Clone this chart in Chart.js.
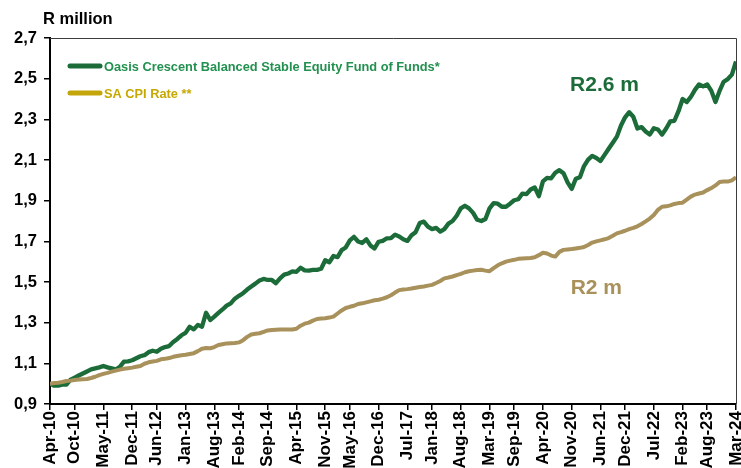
<!DOCTYPE html>
<html>
<head>
<meta charset="utf-8">
<script src="https://cdn.jsdelivr.net/npm/chart.js@4/dist/chart.umd.min.js"></script>
<style>
html,body{margin:0;padding:0;background:#fff;}
#wrap{position:relative;width:741px;height:468px;}
</style>
</head>
<body>
<div id="wrap"><canvas id="c" width="741" height="468"></canvas></div>
<script>
// ---- Data ----
const startMonth = 3;   // April
const startYear = 10;   // 2010
const monthNames = ['Jan','Feb','Mar','Apr','May','Jun','Jul','Aug','Sep','Oct','Nov','Dec'];

const tickLabels = ['Apr-10','Oct-10','May-11','Dec-11','Jun-12','Jan-13','Aug-13','Feb-14','Sep-14','Apr-15','Nov-15','May-16','Dec-16','Jul-17','Jan-18','Aug-18','Mar-19','Sep-19','Apr-20','Nov-20','Jun-21','Dec-21','Jul-22','Feb-23','Aug-23','Mar-24'];

const fundValues = [1.00,0.99,0.99,0.995,0.995,1.02,1.03,1.04,1.05,1.06,
1.07,1.075,1.08,1.087,1.08,1.075,1.07,1.083,1.108,1.11,
1.115,1.125,1.135,1.14,1.155,1.162,1.157,1.172,1.18,1.185,
1.205,1.22,1.238,1.25,1.28,1.267,1.289,1.28,1.349,1.313,
1.33,1.348,1.365,1.384,1.395,1.418,1.432,1.445,1.463,1.478,
1.492,1.507,1.515,1.51,1.51,1.494,1.518,1.536,1.542,1.552,
1.55,1.57,1.557,1.556,1.56,1.56,1.565,1.607,1.597,1.628,
1.622,1.657,1.67,1.705,1.722,1.699,1.692,1.71,1.68,1.665,
1.698,1.702,1.715,1.716,1.733,1.724,1.71,1.702,1.73,1.745,
1.79,1.797,1.772,1.76,1.766,1.748,1.76,1.787,1.8,1.826,
1.862,1.875,1.862,1.84,1.806,1.8,1.81,1.862,1.888,1.885,
1.87,1.87,1.885,1.902,1.907,1.935,1.932,1.955,1.965,1.922,
1.995,2.012,2.01,2.037,2.05,2.035,1.99,1.958,2.008,2.015,
2.07,2.102,2.12,2.11,2.095,2.125,2.155,2.185,2.215,2.27,
2.31,2.335,2.313,2.255,2.262,2.24,2.225,2.256,2.25,2.225,
2.255,2.29,2.293,2.34,2.4,2.385,2.41,2.445,2.472,2.462,
2.472,2.44,2.385,2.44,2.485,2.498,2.52,2.585];

const cpiValues = [1.00,1.003,1.005,1.008,1.013,1.015,1.018,1.02,1.022,1.023,
1.028,1.034,1.042,1.048,1.053,1.059,1.064,1.069,1.073,1.076,
1.079,1.083,1.087,1.098,1.105,1.109,1.112,1.12,1.122,1.126,
1.132,1.136,1.14,1.142,1.146,1.15,1.16,1.172,1.175,1.174,
1.18,1.19,1.194,1.198,1.199,1.2,1.203,1.214,1.23,1.242,
1.245,1.248,1.255,1.262,1.264,1.265,1.266,1.267,1.267,1.266,
1.27,1.285,1.295,1.30,1.31,1.318,1.32,1.322,1.325,1.33,
1.345,1.36,1.372,1.378,1.383,1.392,1.395,1.4,1.405,1.41,
1.413,1.418,1.425,1.435,1.448,1.46,1.463,1.465,1.468,1.472,
1.475,1.478,1.482,1.486,1.495,1.505,1.518,1.522,1.527,1.534,
1.54,1.548,1.553,1.556,1.559,1.56,1.556,1.553,1.568,1.582,
1.592,1.6,1.605,1.609,1.614,1.616,1.617,1.618,1.622,1.632,
1.644,1.64,1.63,1.625,1.648,1.658,1.66,1.662,1.665,1.668,
1.672,1.682,1.694,1.7,1.705,1.71,1.716,1.727,1.739,1.745,
1.752,1.76,1.766,1.774,1.785,1.798,1.812,1.83,1.855,1.87,
1.872,1.877,1.884,1.888,1.89,1.905,1.92,1.93,1.935,1.94,
1.952,1.962,1.975,1.992,1.994,1.994,2.0,2.015];

const seriesNames = ['Oasis Crescent Balanced Stable Equity Fund of Funds*', 'SA CPI Rate **'];
const endLabels = ['R2.6 m', 'R2 m'];
const endLabelAnchors = [[135, 2.47], [133, 1.47]]; // [month index, value]

// ---- Build ----
const categories = fundValues.map((_, i) => {
  const m = startMonth + i;
  return monthNames[m % 12] + '-' + String(startYear + Math.floor(m / 12)).padStart(2, '0');
});
const tickIndices = tickLabels.map(l => categories.indexOf(l));

const FONT = "'Liberation Sans', Arial, sans-serif";
const GREEN = '#1b6c39';
const TAN = '#a8915a';

const overlay = {
  id: 'overlay',
  afterDraw(chart) {
    const ctx = chart.ctx;
    const a = chart.chartArea;
    ctx.save();
    // frame top/right
    ctx.strokeStyle = '#3c3c3c';
    ctx.lineWidth = 1;
    ctx.beginPath();
    ctx.moveTo(a.left, a.top + 0.5);
    ctx.lineTo(a.right + 0.5, a.top + 0.5);
    ctx.lineTo(a.right + 0.5, a.bottom);
    ctx.stroke();
    // unit label
    ctx.fillStyle = '#000';
    ctx.font = 'bold 16.5px ' + FONT;
    ctx.textAlign = 'left';
    ctx.textBaseline = 'middle';
    ctx.fillText('R million', 43, 19);
    // legend
    const leg = [[GREEN, '#22904f', 66], ['#c4a60a', '#c6a800', 93]];
    ctx.lineCap = 'round';
    ctx.lineWidth = 5;
    leg.forEach((l, k) => {
      ctx.strokeStyle = l[0];
      ctx.beginPath();
      ctx.moveTo(70, l[2]);
      ctx.lineTo(100, l[2]);
      ctx.stroke();
      ctx.fillStyle = l[1];
      ctx.font = 'bold 12.8px ' + FONT;
      ctx.fillText(seriesNames[k], 104, l[2] + 1);
    });
    // end labels
    const xs = chart.scales.x, ys = chart.scales.y;
    ctx.font = 'bold 21px ' + FONT;
    ctx.textAlign = 'center';
    [GREEN, TAN].forEach((c, k) => {
      ctx.fillStyle = c;
      ctx.fillText(endLabels[k], xs.getPixelForValue(endLabelAnchors[k][0]), ys.getPixelForValue(endLabelAnchors[k][1]));
    });
    ctx.restore();
  }
};

new Chart(document.getElementById('c'), {
  type: 'line',
  data: {
    datasets: [
      { label: seriesNames[0], data: fundValues.map((v, i) => ({x: i, y: v})), borderColor: GREEN, borderWidth: 4.3, pointRadius: 0, borderJoinStyle: 'round', order: 1 },
      { label: seriesNames[1], data: cpiValues.map((v, i) => ({x: i, y: v})), borderColor: TAN, borderWidth: 4, pointRadius: 0, borderJoinStyle: 'round', order: 0 }
    ]
  },
  options: {
    responsive: false,
    animation: false,
    layout: { padding: { top: 38, right: 5, left: 0, bottom: 0 } },
    plugins: { legend: { display: false }, tooltip: { enabled: false }, title: { display: false } },
    scales: {
      x: {
        type: 'linear', min: 0, max: fundValues.length - 1,
        afterBuildTicks: s => { s.ticks = tickIndices.map(v => ({ value: v })); },
        afterFit: s => { s.height = 64; s.paddingLeft = 0; s.paddingRight = 0; },
        border: { color: '#000', width: 2 },
        grid: { drawOnChartArea: false, drawTicks: true, tickLength: 6, color: '#000', lineWidth: 1.5 },
        ticks: {
          autoSkip: false, maxRotation: 90, minRotation: 90, padding: 1,
          color: '#000', font: { family: FONT, size: 17, weight: 'bold' },
          callback: v => categories[v]
        }
      },
      y: {
        min: 0.9, max: 2.7,
        afterFit: s => { s.width = 50; s.paddingTop = 0; s.paddingBottom = 0; },
        border: { color: '#000', width: 2 },
        grid: { drawOnChartArea: false, drawTicks: true, tickLength: 6, color: '#000', lineWidth: 1.5 },
        ticks: {
          stepSize: 0.2, padding: 7, color: '#000',
          font: { family: FONT, size: 16.5, weight: 'bold' },
          callback: v => v.toFixed(1).replace('.', ',')
        }
      }
    }
  },
  plugins: [overlay]
});
</script>
</body>
</html>
